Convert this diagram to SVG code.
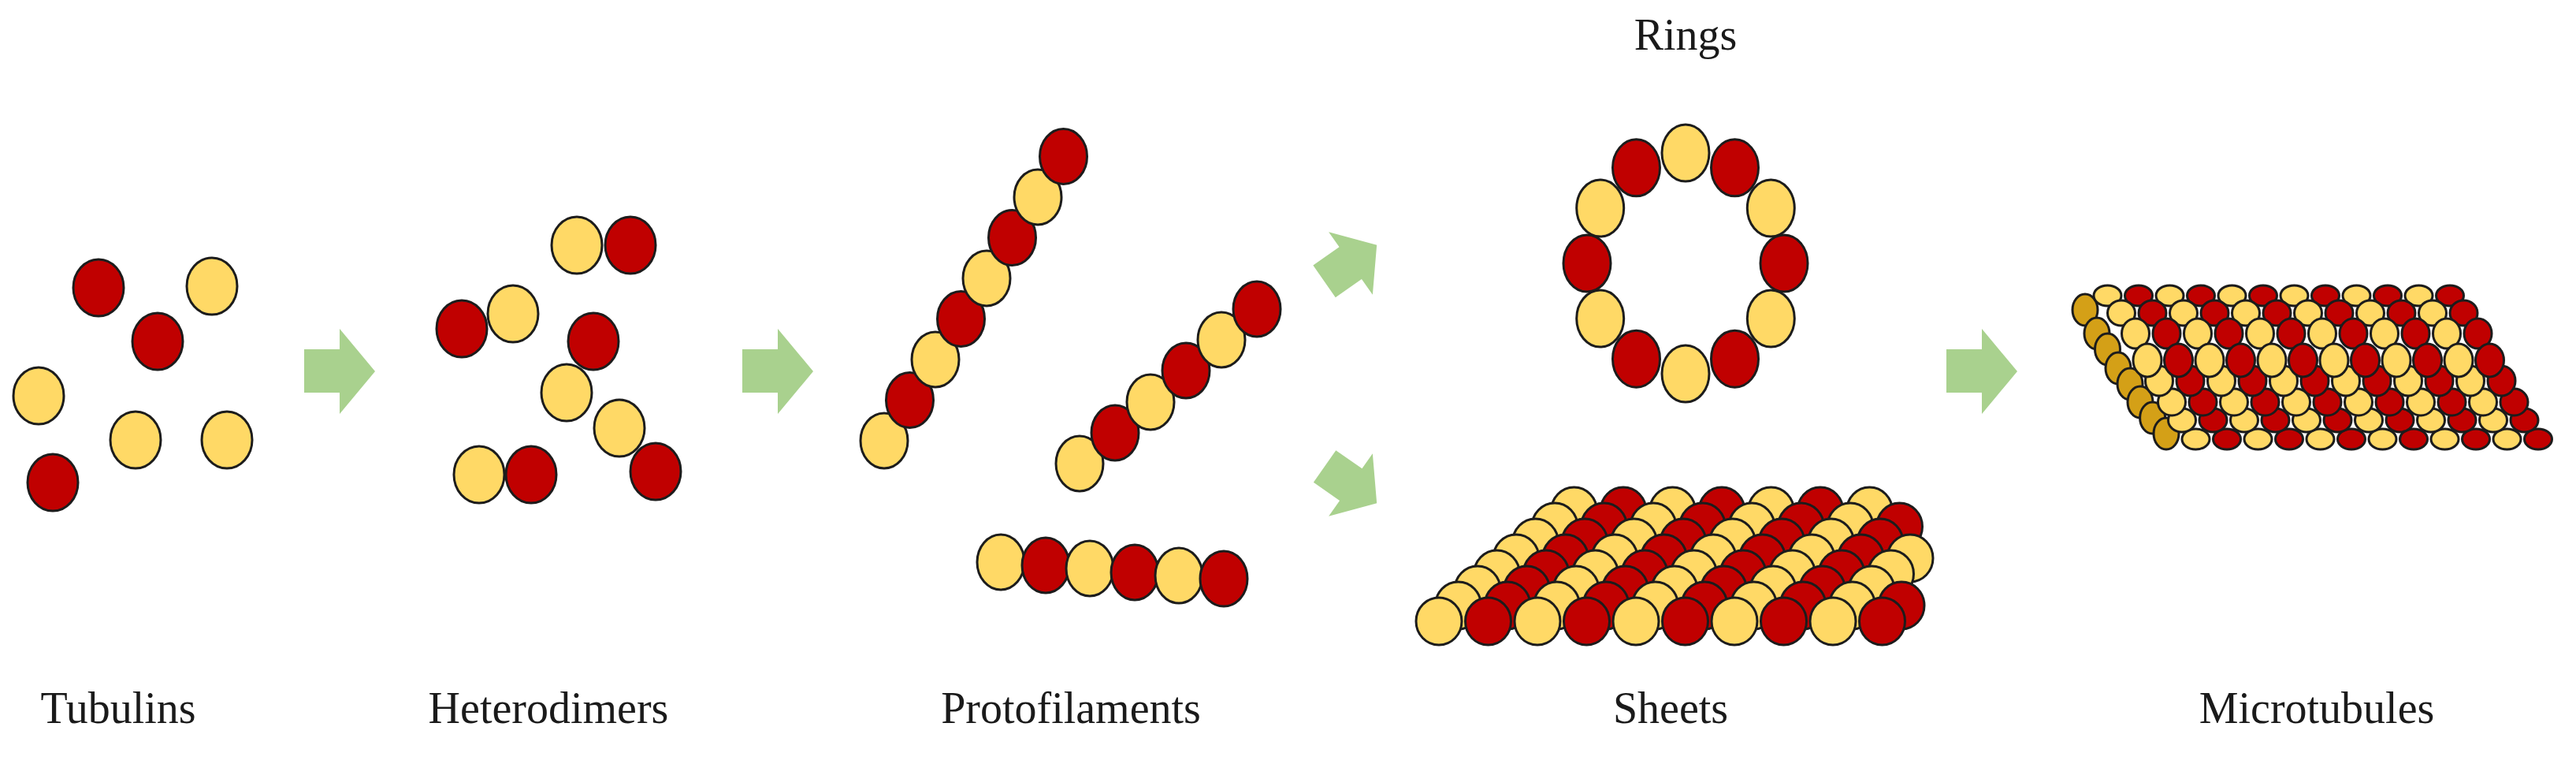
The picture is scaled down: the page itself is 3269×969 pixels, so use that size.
<svg xmlns="http://www.w3.org/2000/svg" width="3269" height="969" viewBox="0 0 3269 969">
<style>
ellipse{stroke:#1c1c1c;stroke-width:3}
.y{fill:#ffd966}.r{fill:#c00000}.g{fill:#d4a017}
.a{fill:#a9d18e}
text{font-family:"Liberation Serif","Times New Roman",serif;font-size:56px;fill:#1a1a1a;text-anchor:middle}
</style>
<defs><path id="arr" d="M-45,-28 H0 V-54 L45,0 L0,54 V27 H-45 Z"/></defs>
<rect width="3269" height="969" fill="#fff"/>
<g id="connectors">
<use href="#arr" class="a" transform="translate(431,471)"/>
<use href="#arr" class="a" transform="translate(987,471)"/>
<use href="#arr" class="a" transform="translate(1714,334) rotate(-35) scale(0.9)"/>
<use href="#arr" class="a" transform="translate(1714,615) rotate(35) scale(0.9)"/>
<use href="#arr" class="a" transform="translate(2515,471)"/>
</g>
<g id="tubulins">
<ellipse class="r" cx="125" cy="365" rx="32" ry="36"/><ellipse class="y" cx="269" cy="363" rx="32" ry="36"/><ellipse class="r" cx="200" cy="433" rx="32" ry="36"/><ellipse class="y" cx="49" cy="502" rx="32" ry="36"/><ellipse class="y" cx="172" cy="558" rx="32" ry="36"/><ellipse class="y" cx="288" cy="558" rx="32" ry="36"/><ellipse class="r" cx="67" cy="612" rx="32" ry="36"/>
<text x="150" y="917">Tubulins</text>
</g>
<g id="heterodimers">
<ellipse class="y" cx="732" cy="311" rx="32" ry="36"/><ellipse class="r" cx="800" cy="311" rx="32" ry="36"/>
<ellipse class="r" cx="586" cy="417" rx="32" ry="36"/><ellipse class="y" cx="651" cy="398" rx="32" ry="36"/>
<ellipse class="r" cx="753" cy="433" rx="32" ry="36"/><ellipse class="y" cx="719" cy="498" rx="32" ry="36"/>
<ellipse class="y" cx="786" cy="543" rx="32" ry="36"/><ellipse class="r" cx="832" cy="598" rx="32" ry="36"/>
<ellipse class="y" cx="608" cy="602" rx="32" ry="36"/><ellipse class="r" cx="674" cy="602" rx="32" ry="36"/>
<text x="696" y="917">Heterodimers</text>
</g>
<g id="protofilaments">
<ellipse class="y" cx="1122" cy="559" rx="30" ry="35"/><ellipse class="r" cx="1154.5" cy="507.5" rx="30" ry="35"/><ellipse class="y" cx="1187" cy="456" rx="30" ry="35"/><ellipse class="r" cx="1219.5" cy="404.5" rx="30" ry="35"/><ellipse class="y" cx="1252" cy="353" rx="30" ry="35"/><ellipse class="r" cx="1284.5" cy="301.5" rx="30" ry="35"/><ellipse class="y" cx="1317" cy="250" rx="30" ry="35"/><ellipse class="r" cx="1349.5" cy="198.5" rx="30" ry="35"/>
<ellipse class="y" cx="1370" cy="588" rx="30" ry="35"/><ellipse class="r" cx="1415" cy="549" rx="30" ry="35"/><ellipse class="y" cx="1460" cy="510" rx="30" ry="35"/><ellipse class="r" cx="1505" cy="470" rx="30" ry="35"/><ellipse class="y" cx="1550" cy="431" rx="30" ry="35"/><ellipse class="r" cx="1595" cy="392" rx="30" ry="35"/>
<ellipse class="y" cx="1270" cy="713" rx="30" ry="35"/><ellipse class="r" cx="1327" cy="717" rx="30" ry="35"/><ellipse class="y" cx="1383" cy="721" rx="30" ry="35"/><ellipse class="r" cx="1440" cy="726" rx="30" ry="35"/><ellipse class="y" cx="1496" cy="730" rx="30" ry="35"/><ellipse class="r" cx="1553" cy="734" rx="30" ry="35"/>
<text x="1359" y="917">Protofilaments</text>
</g>
<g id="rings">
<ellipse class="y" cx="2139" cy="194" rx="30" ry="36"/><ellipse class="r" cx="2201.5" cy="212.8" rx="30" ry="36"/><ellipse class="y" cx="2247.3" cy="264" rx="30" ry="36"/><ellipse class="r" cx="2264" cy="334" rx="30" ry="36"/><ellipse class="y" cx="2247.3" cy="404" rx="30" ry="36"/><ellipse class="r" cx="2201.5" cy="455.2" rx="30" ry="36"/><ellipse class="y" cx="2139" cy="474" rx="30" ry="36"/><ellipse class="r" cx="2076.5" cy="455.2" rx="30" ry="36"/><ellipse class="y" cx="2030.7" cy="404" rx="30" ry="36"/><ellipse class="r" cx="2014" cy="334" rx="30" ry="36"/><ellipse class="y" cx="2030.7" cy="264" rx="30" ry="36"/><ellipse class="r" cx="2076.5" cy="212.8" rx="30" ry="36"/>
<text x="2139" y="63">Rings</text>
</g>
<g id="sheets">
<g transform="translate(0,648)"><ellipse class="y" cx="1997.5" rx="29" ry="30"/><ellipse class="r" cx="2060" rx="29" ry="30"/><ellipse class="y" cx="2122.5" rx="29" ry="30"/><ellipse class="r" cx="2185" rx="29" ry="30"/><ellipse class="y" cx="2247.5" rx="29" ry="30"/><ellipse class="r" cx="2310" rx="29" ry="30"/><ellipse class="y" cx="2372.5" rx="29" ry="30"/></g>
<g transform="translate(0,668)"><ellipse class="y" cx="1973" rx="29" ry="30"/><ellipse class="r" cx="2035.5" rx="29" ry="30"/><ellipse class="y" cx="2098" rx="29" ry="30"/><ellipse class="r" cx="2160.5" rx="29" ry="30"/><ellipse class="y" cx="2223" rx="29" ry="30"/><ellipse class="r" cx="2285.5" rx="29" ry="30"/><ellipse class="y" cx="2348" rx="29" ry="30"/><ellipse class="r" cx="2410.5" rx="29" ry="30"/></g>
<g transform="translate(0,688)"><ellipse class="y" cx="1948.5" rx="29" ry="30"/><ellipse class="r" cx="2011" rx="29" ry="30"/><ellipse class="y" cx="2073.5" rx="29" ry="30"/><ellipse class="r" cx="2136" rx="29" ry="30"/><ellipse class="y" cx="2198.5" rx="29" ry="30"/><ellipse class="r" cx="2261" rx="29" ry="30"/><ellipse class="y" cx="2323.5" rx="29" ry="30"/><ellipse class="r" cx="2386" rx="29" ry="30"/></g>
<g transform="translate(0,708)"><ellipse class="y" cx="1924" rx="29" ry="30"/><ellipse class="r" cx="1986.5" rx="29" ry="30"/><ellipse class="y" cx="2049" rx="29" ry="30"/><ellipse class="r" cx="2111.5" rx="29" ry="30"/><ellipse class="y" cx="2174" rx="29" ry="30"/><ellipse class="r" cx="2236.5" rx="29" ry="30"/><ellipse class="y" cx="2299" rx="29" ry="30"/><ellipse class="r" cx="2361.5" rx="29" ry="30"/><ellipse class="y" cx="2424" rx="29" ry="30"/></g>
<g transform="translate(0,728)"><ellipse class="y" cx="1899.5" rx="29" ry="30"/><ellipse class="r" cx="1962" rx="29" ry="30"/><ellipse class="y" cx="2024.5" rx="29" ry="30"/><ellipse class="r" cx="2087" rx="29" ry="30"/><ellipse class="y" cx="2149.5" rx="29" ry="30"/><ellipse class="r" cx="2212" rx="29" ry="30"/><ellipse class="y" cx="2274.5" rx="29" ry="30"/><ellipse class="r" cx="2337" rx="29" ry="30"/><ellipse class="y" cx="2399.5" rx="29" ry="30"/></g>
<g transform="translate(0,748)"><ellipse class="y" cx="1875" rx="29" ry="30"/><ellipse class="r" cx="1937.5" rx="29" ry="30"/><ellipse class="y" cx="2000" rx="29" ry="30"/><ellipse class="r" cx="2062.5" rx="29" ry="30"/><ellipse class="y" cx="2125" rx="29" ry="30"/><ellipse class="r" cx="2187.5" rx="29" ry="30"/><ellipse class="y" cx="2250" rx="29" ry="30"/><ellipse class="r" cx="2312.5" rx="29" ry="30"/><ellipse class="y" cx="2375" rx="29" ry="30"/></g>
<g transform="translate(0,768)"><ellipse class="y" cx="1850.5" rx="29" ry="30"/><ellipse class="r" cx="1913" rx="29" ry="30"/><ellipse class="y" cx="1975.5" rx="29" ry="30"/><ellipse class="r" cx="2038" rx="29" ry="30"/><ellipse class="y" cx="2100.5" rx="29" ry="30"/><ellipse class="r" cx="2163" rx="29" ry="30"/><ellipse class="y" cx="2225.5" rx="29" ry="30"/><ellipse class="r" cx="2288" rx="29" ry="30"/><ellipse class="y" cx="2350.5" rx="29" ry="30"/><ellipse class="r" cx="2413" rx="29" ry="30"/></g>
<g transform="translate(0,788)"><ellipse class="y" cx="1826" rx="29" ry="30"/><ellipse class="r" cx="1888.5" rx="29" ry="30"/><ellipse class="y" cx="1951" rx="29" ry="30"/><ellipse class="r" cx="2013.5" rx="29" ry="30"/><ellipse class="y" cx="2076" rx="29" ry="30"/><ellipse class="r" cx="2138.5" rx="29" ry="30"/><ellipse class="y" cx="2201" rx="29" ry="30"/><ellipse class="r" cx="2263.5" rx="29" ry="30"/><ellipse class="y" cx="2326" rx="29" ry="30"/><ellipse class="r" cx="2388.5" rx="29" ry="30"/></g>
<text x="2120" y="917">Sheets</text>
</g>
<g id="microtubules">
<ellipse class="g" cx="2646" cy="393" rx="16" ry="20"/><ellipse class="g" cx="2661" cy="423" rx="16" ry="20"/><ellipse class="g" cx="2674.5" cy="443" rx="16" ry="20"/><ellipse class="g" cx="2688" cy="467" rx="16" ry="20"/><ellipse class="g" cx="2703" cy="487" rx="16" ry="20"/><ellipse class="g" cx="2716" cy="510" rx="16" ry="20"/><ellipse class="g" cx="2731.6" cy="530" rx="16" ry="20"/><ellipse class="g" cx="2749" cy="550" rx="16" ry="20"/>
<g transform="translate(0,375)"><ellipse class="y" cx="2674.5" rx="17.5" ry="13"/><ellipse class="r" cx="2714" rx="17.5" ry="13"/><ellipse class="y" cx="2753.5" rx="17.5" ry="13"/><ellipse class="r" cx="2793" rx="17.5" ry="13"/><ellipse class="y" cx="2832.5" rx="17.5" ry="13"/><ellipse class="r" cx="2872" rx="17.5" ry="13"/><ellipse class="y" cx="2911.5" rx="17.5" ry="13"/><ellipse class="r" cx="2951" rx="17.5" ry="13"/><ellipse class="y" cx="2990.5" rx="17.5" ry="13"/><ellipse class="r" cx="3030" rx="17.5" ry="13"/><ellipse class="y" cx="3069.5" rx="17.5" ry="13"/><ellipse class="r" cx="3109" rx="17.5" ry="13"/></g>
<g transform="translate(0,557)"><ellipse class="y" cx="2786.5" rx="17.5" ry="13"/><ellipse class="r" cx="2826" rx="17.5" ry="13"/><ellipse class="y" cx="2865.5" rx="17.5" ry="13"/><ellipse class="r" cx="2905" rx="17.5" ry="13"/><ellipse class="y" cx="2944.5" rx="17.5" ry="13"/><ellipse class="r" cx="2984" rx="17.5" ry="13"/><ellipse class="y" cx="3023.5" rx="17.5" ry="13"/><ellipse class="r" cx="3063" rx="17.5" ry="13"/><ellipse class="y" cx="3102.5" rx="17.5" ry="13"/><ellipse class="r" cx="3142" rx="17.5" ry="13"/><ellipse class="y" cx="3181.5" rx="17.5" ry="13"/><ellipse class="r" cx="3221" rx="17.5" ry="13"/></g>
<g transform="translate(0,397)"><ellipse class="y" cx="2692" rx="17.5" ry="16"/><ellipse class="r" cx="2731.5" rx="17.5" ry="16"/><ellipse class="y" cx="2771" rx="17.5" ry="16"/><ellipse class="r" cx="2810.5" rx="17.5" ry="16"/><ellipse class="y" cx="2850" rx="17.5" ry="16"/><ellipse class="r" cx="2889.5" rx="17.5" ry="16"/><ellipse class="y" cx="2929" rx="17.5" ry="16"/><ellipse class="r" cx="2968.5" rx="17.5" ry="16"/><ellipse class="y" cx="3008" rx="17.5" ry="16"/><ellipse class="r" cx="3047.5" rx="17.5" ry="16"/><ellipse class="y" cx="3087" rx="17.5" ry="16"/><ellipse class="r" cx="3126.5" rx="17.5" ry="16"/></g>
<g transform="translate(0,533)"><ellipse class="y" cx="2769" rx="17.5" ry="15"/><ellipse class="r" cx="2808.5" rx="17.5" ry="15"/><ellipse class="y" cx="2848" rx="17.5" ry="15"/><ellipse class="r" cx="2887.5" rx="17.5" ry="15"/><ellipse class="y" cx="2927" rx="17.5" ry="15"/><ellipse class="r" cx="2966.5" rx="17.5" ry="15"/><ellipse class="y" cx="3006" rx="17.5" ry="15"/><ellipse class="r" cx="3045.5" rx="17.5" ry="15"/><ellipse class="y" cx="3085" rx="17.5" ry="15"/><ellipse class="r" cx="3124.5" rx="17.5" ry="15"/><ellipse class="y" cx="3164" rx="17.5" ry="15"/><ellipse class="r" cx="3203.5" rx="17.5" ry="15"/></g>
<g transform="translate(0,423)"><ellipse class="y" cx="2710" rx="17.5" ry="19"/><ellipse class="r" cx="2749.5" rx="17.5" ry="19"/><ellipse class="y" cx="2789" rx="17.5" ry="19"/><ellipse class="r" cx="2828.5" rx="17.5" ry="19"/><ellipse class="y" cx="2868" rx="17.5" ry="19"/><ellipse class="r" cx="2907.5" rx="17.5" ry="19"/><ellipse class="y" cx="2947" rx="17.5" ry="19"/><ellipse class="r" cx="2986.5" rx="17.5" ry="19"/><ellipse class="y" cx="3026" rx="17.5" ry="19"/><ellipse class="r" cx="3065.5" rx="17.5" ry="19"/><ellipse class="y" cx="3105" rx="17.5" ry="19"/><ellipse class="r" cx="3144.5" rx="17.5" ry="19"/></g>
<g transform="translate(0,510)"><ellipse class="y" cx="2756" rx="17.5" ry="17"/><ellipse class="r" cx="2795.5" rx="17.5" ry="17"/><ellipse class="y" cx="2835" rx="17.5" ry="17"/><ellipse class="r" cx="2874.5" rx="17.5" ry="17"/><ellipse class="y" cx="2914" rx="17.5" ry="17"/><ellipse class="r" cx="2953.5" rx="17.5" ry="17"/><ellipse class="y" cx="2993" rx="17.5" ry="17"/><ellipse class="r" cx="3032.5" rx="17.5" ry="17"/><ellipse class="y" cx="3072" rx="17.5" ry="17"/><ellipse class="r" cx="3111.5" rx="17.5" ry="17"/><ellipse class="y" cx="3151" rx="17.5" ry="17"/><ellipse class="r" cx="3190.5" rx="17.5" ry="17"/></g>
<g transform="translate(0,483)"><ellipse class="y" cx="2740" rx="17.5" ry="19"/><ellipse class="r" cx="2779.5" rx="17.5" ry="19"/><ellipse class="y" cx="2819" rx="17.5" ry="19"/><ellipse class="r" cx="2858.5" rx="17.5" ry="19"/><ellipse class="y" cx="2898" rx="17.5" ry="19"/><ellipse class="r" cx="2937.5" rx="17.5" ry="19"/><ellipse class="y" cx="2977" rx="17.5" ry="19"/><ellipse class="r" cx="3016.5" rx="17.5" ry="19"/><ellipse class="y" cx="3056" rx="17.5" ry="19"/><ellipse class="r" cx="3095.5" rx="17.5" ry="19"/><ellipse class="y" cx="3135" rx="17.5" ry="19"/><ellipse class="r" cx="3174.5" rx="17.5" ry="19"/></g>
<g transform="translate(0,457)"><ellipse class="y" cx="2725" rx="18" ry="21"/><ellipse class="r" cx="2764.5" rx="18" ry="21"/><ellipse class="y" cx="2804" rx="18" ry="21"/><ellipse class="r" cx="2843.5" rx="18" ry="21"/><ellipse class="y" cx="2883" rx="18" ry="21"/><ellipse class="r" cx="2922.5" rx="18" ry="21"/><ellipse class="y" cx="2962" rx="18" ry="21"/><ellipse class="r" cx="3001.5" rx="18" ry="21"/><ellipse class="y" cx="3041" rx="18" ry="21"/><ellipse class="r" cx="3080.5" rx="18" ry="21"/><ellipse class="y" cx="3120" rx="18" ry="21"/><ellipse class="r" cx="3159.5" rx="18" ry="21"/></g>
<text x="2940" y="917">Microtubules</text>
</g>
</svg>
